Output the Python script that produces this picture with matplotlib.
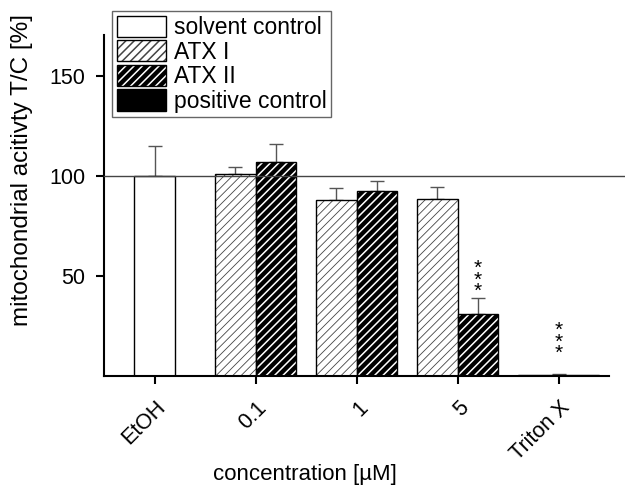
import numpy as np
import matplotlib
matplotlib.use("Agg")
import matplotlib.pyplot as plt
import matplotlib.transforms as mtransforms
from matplotlib.patches import Patch
from matplotlib.legend_handler import HandlerTuple

plt.rcParams['font.family'] = ['Liberation Sans', 'DejaVu Sans']
plt.rcParams['font.size'] = 16

categories = ['EtOH', '0.1', '1', '5', 'Triton X']
solvent = [100]
solvent_err = [15]
atx1 = [101, 88, 88.5]
atx1_err = [3.5, 6, 6]
atx2 = [107, 92.5, 31]
atx2_err = [9, 5, 8]
positive = [0.6]
positive_err = [0.5]
star_y = [48, 17]

x = np.arange(len(categories))
w = 0.4

fig = plt.figure(figsize=(6.25, 4.93), dpi=100)
ax = fig.add_axes([104 / 625, 1 - 376 / 493, 505 / 625, 341 / 493])

err_kw = dict(fmt='none', ecolor='#555555', elinewidth=1, capsize=5, capthick=1, zorder=1)

# solvent control
ax.bar(x[0], solvent, w, color='white', edgecolor='black', linewidth=1, zorder=2)
ax.errorbar(x[0], solvent, yerr=[[0], solvent_err], **err_kw)

# ATX I: white with thin grey hatch
plt.rcParams['hatch.linewidth'] = 0.6
xa = x[1:4] - w / 2
ax.bar(xa, atx1, w, color='white', edgecolor='#444444', hatch='////', linewidth=0, zorder=2)
ax.bar(xa, atx1, w, fill=False, edgecolor='black', linewidth=1, zorder=3)
ax.errorbar(xa, atx1, yerr=[np.zeros(3), atx1_err], **err_kw)

# ATX II: black with white hatch
plt.rcParams['hatch.linewidth'] = 1.1
xb = x[1:4] + w / 2
ax.bar(xb, atx2, w, color='black', edgecolor='white', hatch='////', linewidth=0, zorder=2)
ax.bar(xb, atx2, w, fill=False, edgecolor='black', linewidth=1, zorder=3)
ax.errorbar(xb, atx2, yerr=[np.zeros(3), atx2_err], **err_kw)

# positive control
ax.bar(x[4], positive, 0.8, color='black', edgecolor='black', linewidth=1, zorder=2)
ax.errorbar(x[4], positive, yerr=[[0], positive_err], **err_kw)

ax.axhline(100, xmin=0, xmax=1.035, color='#444444', linewidth=1, clip_on=False, zorder=4)

for xs, ys in zip([xb[2], x[4]], star_y):
    ax.text(xs, ys, '*\n*\n*', ha='center', va='center', fontsize=15, linespacing=0.5)

ax.set_xlim(-0.5, 4.5)
ax.set_ylim(0, 170.5)
ax.set_yticks([50, 100, 150])
ax.set_xticks(x)
ax.tick_params(direction='out', length=5.5, width=1.5)
ax.tick_params(axis='x', pad=15, labelsize=15.5)
ax.tick_params(axis='y', pad=8, labelsize=15.5)
ax.set_xticklabels(categories, rotation=45, ha='right', va='center', rotation_mode='anchor')
shift = mtransforms.ScaledTranslation(8 / 100, 0, fig.dpi_scale_trans)
for lbl in ax.get_xticklabels():
    lbl.set_transform(lbl.get_transform() + shift)
for s in ['top', 'right']:
    ax.spines[s].set_visible(False)
for s in ['left', 'bottom']:
    ax.spines[s].set_linewidth(1.5)

ax.set_ylabel('mitochondrial acitivty T/C [%]', fontsize=17.5)
ax.yaxis.set_label_coords(-0.1406, 0.604)
ax.set_xlabel('concentration [µM]', fontsize=16, va='center')
ax.xaxis.set_label_coords(0.398, -0.29)

plt.rcParams['hatch.linewidth'] = 0.6
h1 = Patch(facecolor='white', edgecolor='black', linewidth=1)
h2a = Patch(facecolor='white', edgecolor='#444444', hatch='////', linewidth=0)
h2b = Patch(fill=False, edgecolor='black', linewidth=1)
plt.rcParams['hatch.linewidth'] = 1.1
h3a = Patch(facecolor='black', edgecolor='white', hatch='////', linewidth=0)
h3b = Patch(fill=False, edgecolor='black', linewidth=1)
h4 = Patch(facecolor='black', edgecolor='black', linewidth=1)

leg = fig.legend([h1, (h2a, h2b), (h3a, h3b), h4],
                 ['solvent control', 'ATX I', 'ATX II', 'positive control'],
                 handler_map={tuple: HandlerTuple(ndivide=1)},
                 loc='upper left', bbox_to_anchor=(112 / 625, 1 - 11 / 493),
                 borderaxespad=0, fancybox=False, edgecolor='#666666',
                 handlelength=2.15, handleheight=1.05, labelspacing=0.05,
                 borderpad=0.2, handletextpad=0.35, framealpha=1, fontsize=16.5)
leg.get_frame().set_linewidth(1)

fig.savefig('out.png', dpi=100)
